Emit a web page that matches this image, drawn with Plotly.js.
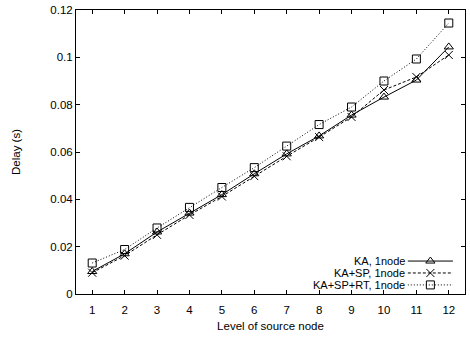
<!DOCTYPE html>
<html>
<head>
<meta charset="utf-8">
<script src="https://cdn.plot.ly/plotly-3.0.1.min.js"></script>
<style>html,body{margin:0;padding:0;background:#fff;}#chart{width:470px;height:338px;}</style>
</head>
<body>
<div id="chart"></div>
<script>
// ---- data ----
const levels = [1, 2, 3, 4, 5, 6, 7, 8, 9, 10, 11, 12];
const seriesNames = ["KA, 1node", "KA+SP, 1node", "KA+SP+RT, 1node"];
const delayKA = [0.0095, 0.0170, 0.0262, 0.0342, 0.0420, 0.0508, 0.0592, 0.0668, 0.0756, 0.0832, 0.0904, 0.1044];
const delayKASP = [0.0090, 0.0162, 0.0250, 0.0334, 0.0412, 0.0498, 0.0582, 0.0663, 0.0748, 0.0862, 0.0917, 0.1010];
const delayKASPRT = [0.0131, 0.0188, 0.0279, 0.0366, 0.0450, 0.0534, 0.0625, 0.0716, 0.0790, 0.0900, 0.0993, 0.1145];
const yTicks = [0, 0.02, 0.04, 0.06, 0.08, 0.1, 0.12];
const yTickText = ["0", "0.02", "0.04", "0.06", "0.08", "0.1", "0.12"];

// ---- styles ----
const FONT = "Liberation Sans, Arial, sans-serif";
const styles = [
  {dash: "solid", symbol: "triangle-up-open"},
  {dash: "3px,2px", symbol: "x-thin-open"},
  {dash: "1px,2px", symbol: "square-open"}
];
const values = [delayKA, delayKASP, delayKASPRT];

const traces = values.map((v, i) => ({
  x: levels, y: v, type: "scatter", mode: "lines+markers",
  name: seriesNames[i], showlegend: false,
  line: {color: "#000", width: 1, dash: styles[i].dash},
  marker: {symbol: styles[i].symbol, size: 8, color: "#000", line: {color: "#000", width: 1}}
}));

// legend key samples drawn on an overlay axis in plot-fraction units
const legX0 = 0.853, legX1 = 0.969, legRows = [0.116, 0.074, 0.032];
const annotations = [];
seriesNames.forEach((n, i) => {
  traces.push({
    x: [legX0, (legX0 + legX1) / 2, legX1], y: [legRows[i], legRows[i], legRows[i]],
    xaxis: "x2", yaxis: "y2", type: "scatter", mode: "lines", showlegend: false, hoverinfo: "skip",
    line: {color: "#000", width: 1, dash: styles[i].dash}
  });
  traces.push({
    x: [(legX0 + legX1) / 2], y: [legRows[i]],
    xaxis: "x2", yaxis: "y2", type: "scatter", mode: "markers", showlegend: false, hoverinfo: "skip",
    marker: {symbol: styles[i].symbol, size: 8, color: "#000", line: {color: "#000", width: 1}}
  });
  annotations.push({
    xref: "paper", yref: "paper", x: legX0 - 0.004, y: legRows[i],
    xanchor: "right", yanchor: "middle", showarrow: false, text: n, borderpad: 0,
    font: {family: FONT, size: 11, color: "#000"}
  });
});

const axisCommon = {
  showgrid: false, zeroline: false, showline: true, linecolor: "#000", linewidth: 1,
  mirror: "allticks", ticks: "inside", ticklen: 4, tickcolor: "#000",
  tickfont: {family: FONT, size: 11.5, color: "#000"}
};

const layout = {
  width: 470, height: 338,
  margin: {l: 76, r: 5, t: 10, b: 44},
  paper_bgcolor: "#fff", plot_bgcolor: "#fff",
  showlegend: false,
  xaxis: Object.assign({}, axisCommon, {
    range: [0.5, 12.5], tickvals: levels, ticktext: levels.map(String), ticklabelstandoff: 5,
    title: {text: "Level of source node", font: {family: FONT, size: 11.5, color: "#000"}, standoff: 7}
  }),
  yaxis: Object.assign({}, axisCommon, {
    range: [0, 0.12], tickvals: yTicks, ticktext: yTickText,
    title: {text: "Delay (s)", font: {family: FONT, size: 11.5, color: "#000"}, standoff: 27}
  }),
  xaxis2: {overlaying: "x", range: [0, 1], visible: false, fixedrange: true},
  yaxis2: {overlaying: "y", range: [0, 1], visible: false, fixedrange: true},
  annotations: annotations
};

Plotly.newPlot("chart", traces, layout, {displayModeBar: false, staticPlot: true});
</script>
</body>
</html>
